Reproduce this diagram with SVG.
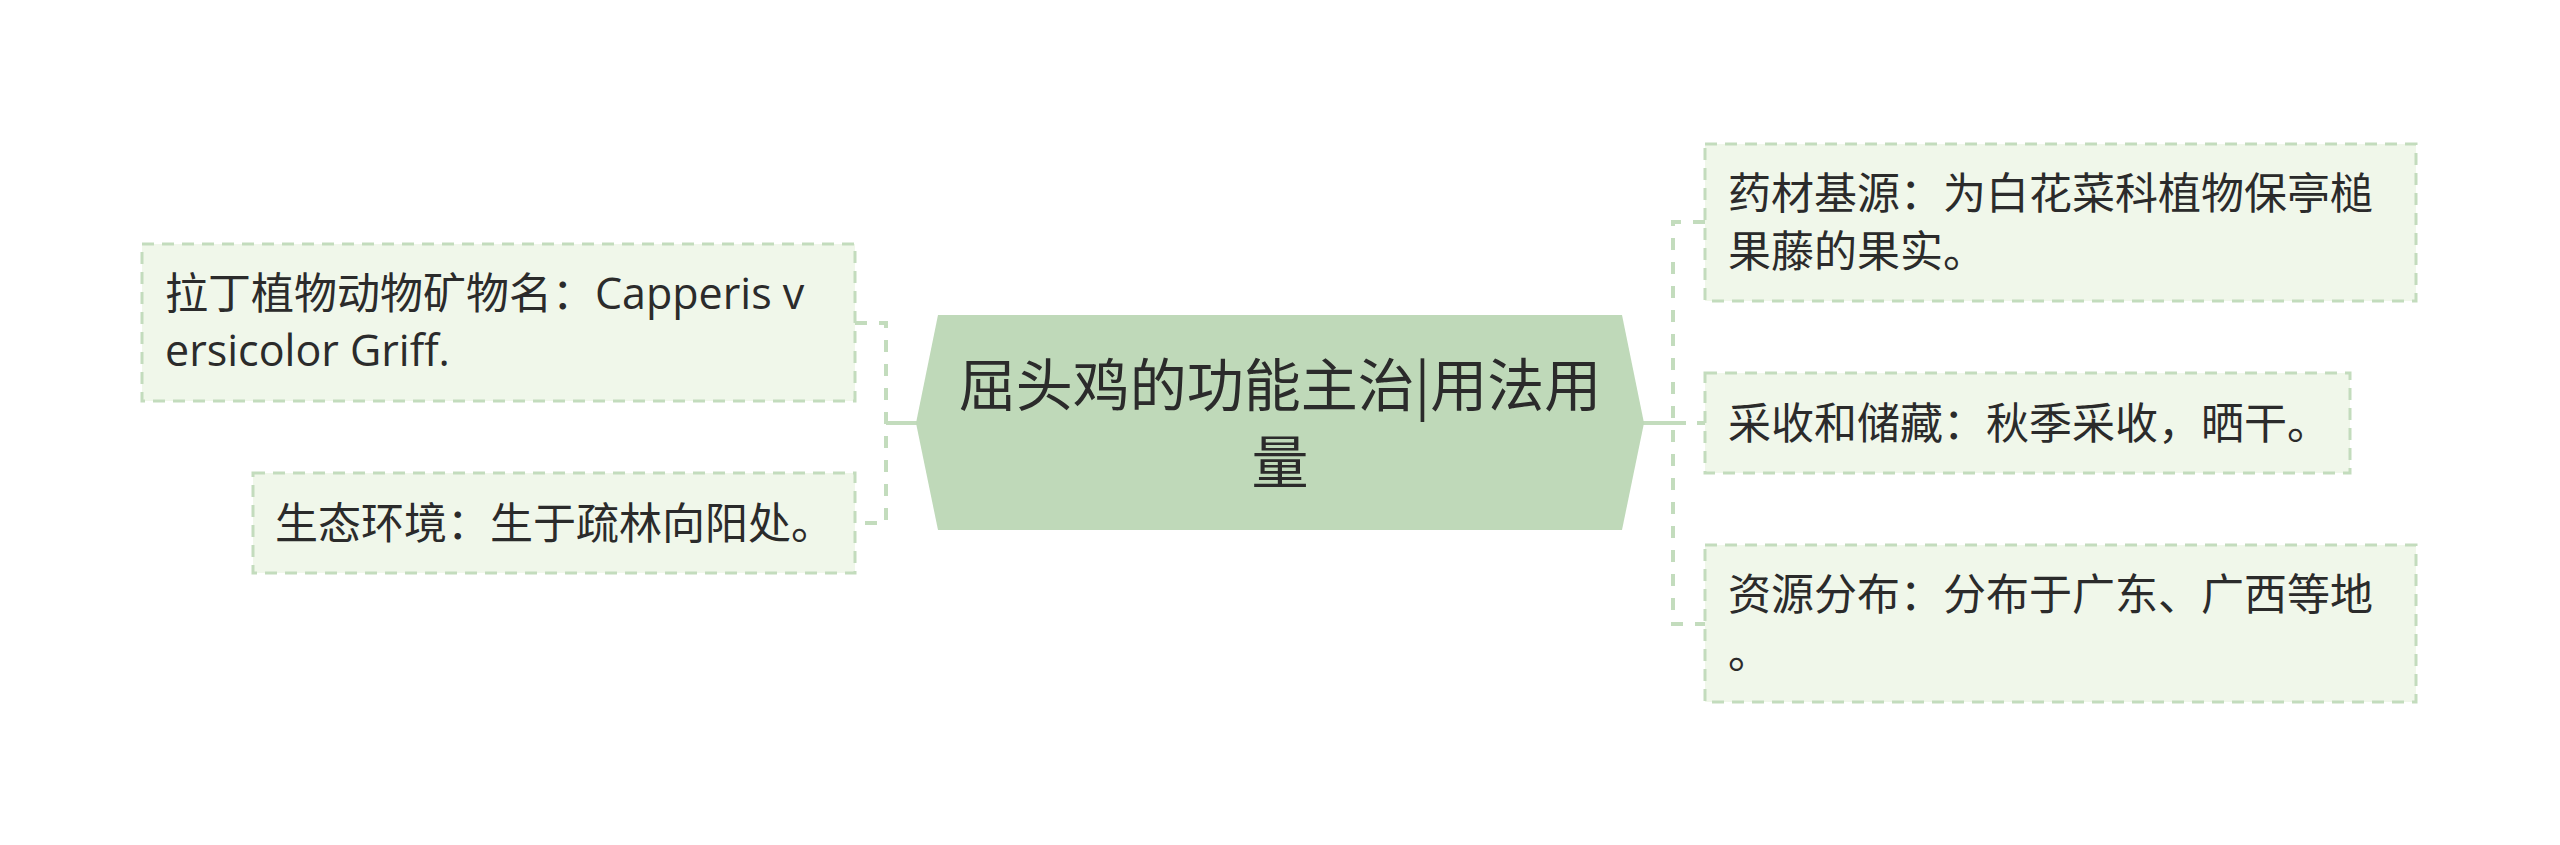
<svg xmlns="http://www.w3.org/2000/svg" width="2560" height="845" viewBox="0 0 2560 845">
  <style>
    .bg { fill: #ffffff; }
    .node { fill: #f0f7ea; stroke: #c3dcbd; stroke-width: 3; stroke-dasharray: 12 8; }
    .root { fill: #bfd9b9; }
    .txt { font-family: "Open Sans", "Noto Sans CJK SC", sans-serif; font-size: 43px; fill: #2b2b2b; }
    .rtxt { font-family: "Noto Sans CJK SC", "Open Sans", sans-serif; font-size: 57px; fill: #2b2b2b; text-anchor: middle; }
    .dash { fill: none; stroke: #c3dcbd; stroke-width: 4; stroke-dasharray: 12 12; }
    .solid { fill: none; stroke: #c3dcbd; stroke-width: 4; }
  </style>
  <rect class="bg" x="0" y="0" width="2560" height="845"/>
  <g id="connectors">
    <path class="solid" d="M886,423 H917"/>
    <path class="dash" d="M855,323 H886 V523 H855"/>
    <path class="solid" d="M1643,423 H1686"/>
    <path class="dash" d="M1705,222 H1673 V624 H1705"/>
    <path class="dash" d="M1673,423 H1705"/>
  </g>
  <g id="root">
    <polygon class="root" points="938,315 1622,315 1644,423 1622,530 938,530 916,423"/>
    <text class="rtxt"><tspan x="1280" y="406">屈头鸡的功能主治|用法用</tspan><tspan x="1280" y="483">量</tspan></text>
  </g>
  <g id="node-latin">
    <rect class="node" x="142" y="244" width="713" height="157"/>
    <text class="txt"><tspan x="165" y="309">拉丁植物动物矿物名：Capperis v</tspan><tspan x="165" y="366">ersicolor Griff.</tspan></text>
  </g>
  <g id="node-habitat">
    <rect class="node" x="253" y="473" width="602" height="100"/>
    <text class="txt" x="275" y="539">生态环境：生于疏林向阳处。</text>
  </g>
  <g id="node-source">
    <rect class="node" x="1705" y="144" width="711" height="157"/>
    <text class="txt"><tspan x="1728" y="209">药材基源：为白花菜科植物保亭槌</tspan><tspan x="1728" y="267">果藤的果实。</tspan></text>
  </g>
  <g id="node-harvest">
    <rect class="node" x="1705" y="373" width="645" height="100"/>
    <text class="txt" x="1728" y="439">采收和储藏：秋季采收，晒干。</text>
  </g>
  <g id="node-distribution">
    <rect class="node" x="1705" y="545" width="711" height="157"/>
    <text class="txt"><tspan x="1728" y="610">资源分布：分布于广东、广西等地</tspan><tspan x="1728" y="668">。</tspan></text>
  </g>
</svg>
